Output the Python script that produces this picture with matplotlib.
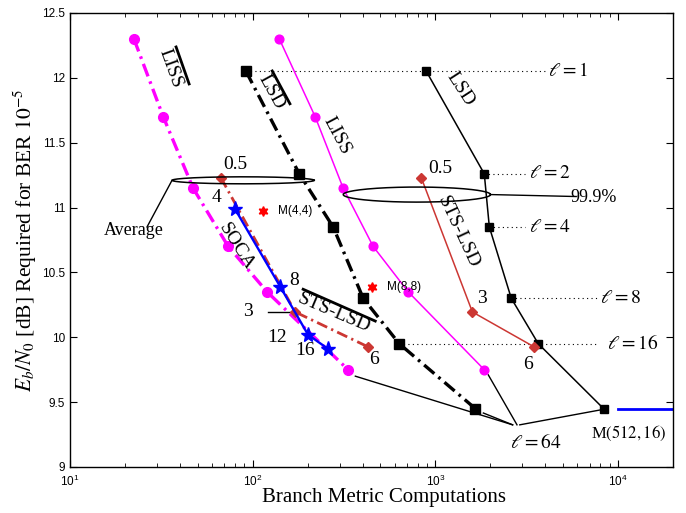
import numpy as np
import matplotlib
matplotlib.use("Agg")
from matplotlib import pyplot as plt

# ---- data ----
liss_avg_x = [22.4, 32.4, 47.2, 73.5, 120, 333]
liss_avg_y = [12.30, 11.70, 11.15, 10.70, 10.35, 9.75]
liss_max_x = [140, 220, 313, 457, 711, 1854]
liss_max_y = [12.30, 11.70, 11.15, 10.70, 10.35, 9.75]

lsd_avg_x = [92, 180, 276, 403, 635, 1656]
lsd_avg_y = [12.05, 11.26, 10.85, 10.30, 9.95, 9.45]
lsd_max_x = [893, 1854, 1976, 2606, 3664, 8340]
lsd_max_y = [12.05, 11.26, 10.85, 10.30, 9.95, 9.45]
lsd_ell = [1, 2, 4, 8, 16]

sts_avg_x = [67, 171, 430]
sts_avg_y = [11.23, 10.195, 9.925]
sts_max_x = [838, 1596, 3484]
sts_max_y = [11.23, 10.195, 9.925]

soca_x = [80, 141.6, 201, 259]
soca_y = [10.99, 10.39, 10.02, 9.91]

m_x = [114, 452]
m_y = [10.97, 10.39]
m_labels = ['M(4,4)', 'M(8,8)']

ml_x = [1e4, 2e4]
ml_y = [9.45, 9.45]

magenta = '#ff00ff'
red = '#cc3733'

plt.rcParams['font.family'] = ['Liberation Serif', 'DejaVu Serif']
plt.rcParams['mathtext.fontset'] = 'stix'

fig = plt.figure(figsize=(6.86, 5.13), dpi=100)
ax = fig.add_axes([0.102, 0.0897, 0.879, 0.885])
ax.set_xscale('log')
ax.set_xlim(10, 2e4)
ax.set_ylim(9, 12.5)

dd = (0, (4, 1.6, 0.8, 1.6))
ax.plot(liss_avg_x, liss_avg_y, color=magenta, lw=2.4, ls=dd, marker='o', ms=7, zorder=3)
ax.plot(liss_max_x, liss_max_y, color=magenta, lw=1.1, marker='o', ms=6.3, zorder=3)
ax.plot(lsd_avg_x, lsd_avg_y, color='k', lw=2.4, ls=dd, marker='s', ms=6.5, zorder=3)
ax.plot(lsd_max_x, lsd_max_y, color='k', lw=1.1, marker='s', ms=5.3, zorder=3)
ax.plot(sts_avg_x, sts_avg_y, color=red, lw=2.0, ls=dd, marker='D', ms=5.5, zorder=3)
ax.plot(sts_max_x, sts_max_y, color=red, lw=1.1, marker='D', ms=5.5, zorder=3)
ax.plot(soca_x, soca_y, color='#0000ff', lw=1.7, marker='*', ms=11, zorder=4)
ax.plot(m_x, m_y, ls='none', color='#ff0000', marker=(6, 1, 0), ms=7, zorder=4)
ax.plot(ml_x, ml_y, color='#0000ff', lw=2.0)

for x, y, s in zip(m_x, m_y, m_labels):
    ax.text(x * 1.21, y, s, family='Liberation Sans', fontsize=8.5, va='center', ha='left')

# dotted guides to the l = ... labels
ends = [4100, 3110, 3110, 7730, 7730]
txt_x = [4160, 3240, 3240, 8020, 8750]
for i, l in enumerate(lsd_ell):
    y = lsd_avg_y[i] if i in (0, 4) else lsd_max_y[i]
    x0 = lsd_avg_x[i] if i in (0, 4) else lsd_max_x[i]
    ax.plot([x0, ends[i]], [y, y], color='k', lw=0.8, ls=(0, (1, 3)), zorder=1)
    ax.text(txt_x[i], y, r'$\ell = %d$' % l, fontsize=14, va='center', ha='left')

# ellipses drawn in log-x space
t = np.linspace(0, 2 * np.pi, 200)
for cx, w, cy, h in [(1.948, 0.389, 11.21, 0.027), (2.899, 0.403, 11.10, 0.058)]:
    ax.plot(10 ** (cx + w * np.cos(t)), cy + h * np.sin(t), color='k', lw=1.1, zorder=5)

# annotation lines
ax.plot([26.4, 36.2], [10.85, 11.21], color='k', lw=1.0)
ax.text(22.4, 10.82, 'Average', fontsize=13, ha='center', va='center')
ax.plot([2028, 5900], [11.10, 11.085], color='k', lw=1.0)
ax.text(5500, 11.08, '99.9%', fontsize=13, ha='left', va='center')

for x0, y0, x1 in [(365, 9.70, 2650), (1833, 9.416, 2650), (1950, 9.71, 2800), (8017, 9.44, 2900)]:
    ax.plot([x0, x1], [y0, 9.325], color='k', lw=1.0)
ax.text(3530, 9.19, r'$\ell = 64$', fontsize=14, ha='center', va='center')
ax.text(11430, 9.26, r'M$(512, 16)$', fontsize=12, ha='center', va='center')

# numbers next to markers
nums = [('0.5', 80, 11.33), ('4', 63.8, 11.08), ('8', 169, 10.44), ('3', 94.4, 10.195),
        ('12', 136, 10.00), ('16', 194, 9.90), ('6', 463, 9.825),
        ('0.5', 1064, 11.30), ('3', 1811, 10.30), ('6', 3236, 9.79)]
for s, x, y in nums:
    ax.text(x, y, s, fontsize=14, ha='center', va='center')
ax.plot([121.6, 177], [10.195, 10.195], color='k', lw=1.0)

# rotated curve names
names = [('LISS', 35.7, 12.076, -70), ('LSD', 126, 11.89, -61), ('LISS', 290, 11.55, -62),
         ('LSD', 1371, 11.91, -57), ('STS-LSD', 1337, 10.81, -65), ('SOCA', 81.3, 10.70, -58),
         ('STS-LSD', 280, 10.19, -23)]
for s, x, y, r in names:
    ax.text(x, y, s, fontsize=14, ha='center', va='center', rotation=r, rotation_mode='anchor')
# overlines for the average curves
for (x0, y0), (x1, y1) in [((38.1, 12.238), (44.9, 11.953)), ((128, 12.053), (160, 11.80)),
                           ((189, 10.37), (469, 10.125))]:
    ax.plot([x0, x1], [y0, y1], color='k', lw=2.0)

ax.set_xlabel('Branch Metric Computations', fontsize=15, va='center')
ax.xaxis.set_label_coords(0.521, -0.068)
ax.set_ylabel(r'$E_b/N_0$ [dB] Required for BER $10^{-5}$', fontsize=15.5, labelpad=2)
ax.set_yticks([9, 9.5, 10, 10.5, 11, 11.5, 12, 12.5])
ax.set_yticklabels(['9', '9.5', '10', '10.5', '11', '11.5', '12', '12.5'])
ax.tick_params(which='both', direction='in', top=True, right=True, labelsize=8.5)
ax.tick_params(axis='x', pad=5)
ax.tick_params(which='major', length=5)
ax.tick_params(which='minor', length=3)
for lab in ax.get_xticklabels() + ax.get_yticklabels():
    lab.set_family('Liberation Sans')
for sp in ax.spines.values():
    sp.set_linewidth(1.0)

fig.savefig('out.png', dpi=100)
